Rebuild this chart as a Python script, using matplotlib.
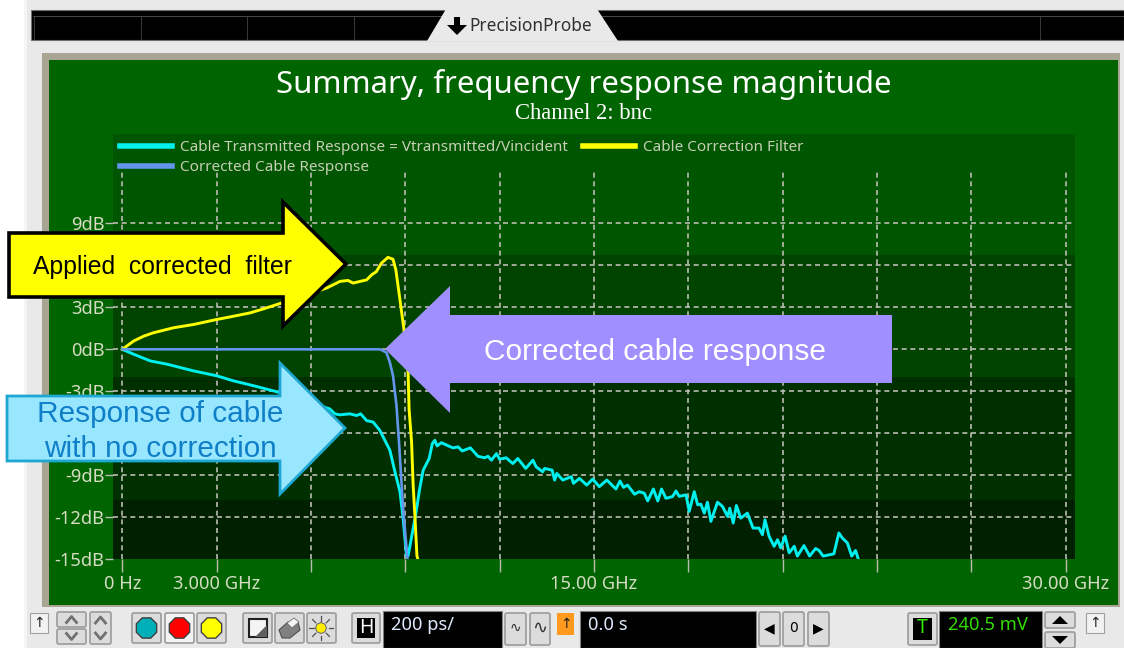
#!/usr/bin/env python3
"""Summary frequency response magnitude, scope screenshot with callout arrows"""

import matplotlib
matplotlib.use('Agg')
import matplotlib.pyplot as plt
from matplotlib.patches import Polygon, Rectangle, RegularPolygon, FancyBboxPatch

W, H = 1124, 648

# Data, GHz / dB
cable_f = [0, 0.36, 0.89, 1.42, 2.26, 3.0, 3.53, 4.17, 4.91, 6.60, 6.76, 6.92, 7.24, 7.45, 7.58,
           7.77, 7.98, 8.19, 8.51, 8.67, 8.83, 8.93, 9.04, 9.09, 9.33, 9.46, 9.57, 9.76, 9.86, 9.94,
           10.01, 10.15, 10.37, 10.52, 10.68, 10.81, 11.07, 11.31, 11.52, 11.63, 11.74, 11.90, 12.0,
           12.21, 12.42, 12.58, 12.83, 13.06, 13.16, 13.37, 13.43, 13.67, 13.75, 13.82, 14.01, 14.28,
           14.35, 14.54, 14.77, 14.96, 15.17, 15.41, 15.70, 15.83, 15.94, 16.07, 16.29, 16.44, 16.60,
           16.71, 16.89, 17.03, 17.15, 17.29, 17.50, 17.61, 17.71, 17.93, 18.03, 18.19, 18.30, 18.40,
           18.51, 18.61, 18.72, 18.93, 19.09, 19.25, 19.32, 19.43, 19.53, 19.67, 19.88, 20.06, 20.25,
           20.36, 20.44, 20.57, 20.73, 20.84, 20.94, 21.08, 21.21, 21.37, 21.47, 21.68, 21.86, 22.05,
           22.16, 22.29, 22.63, 22.79, 22.90, 23.06, 23.20, 23.32, 23.41]
cable_db = [0, -0.35, -0.83, -1.06, -1.54, -1.89, -2.25, -2.60, -3.03, -4.26, -4.61, -4.68, -4.61, -4.73, -4.61,
            -5.09, -5.20, -5.79, -7.21, -8.74, -10.17, -12.06, -14.75, -14.75, -11.82, -9.93, -8.63, -7.80, -6.74, -6.50,
            -6.90, -6.67, -6.90, -7.04, -6.97, -7.26, -7.04, -7.64, -7.75, -7.64, -7.92, -7.45, -7.85,
            -7.75, -8.16, -7.80, -8.51, -7.92, -8.39, -8.75, -8.51, -8.63, -9.34, -8.87, -9.34, -9.10,
            -9.57, -9.22, -9.70, -9.27, -9.81, -9.34, -9.98, -9.41, -9.86, -9.70, -10.35, -10.17, -10.28,
            -10.83, -9.98, -10.83, -9.98, -10.64, -10.52, -10.12, -10.50, -10.40, -11.58, -10.17, -11.11, -11.06,
            -11.70, -10.92, -12.29, -10.92, -11.23, -11.94, -11.35, -12.41, -11.16, -12.06, -11.70, -12.77, -12.77,
            -13.24, -12.18, -13.35, -14.07, -13.60, -14.18, -13.35, -14.54, -14.07, -14.77, -14.02, -14.77, -14.23,
            -14.37, -14.77, -14.61, -13.12, -13.48, -13.83, -14.77, -14.37, -15.0]
filter_f = [0, 0.36, 0.68, 0.99, 1.63, 2.26, 3.0, 3.53, 4.06, 4.49, 5.07, 6.50, 6.71, 6.92, 7.18, 7.34, 7.56,
            7.77, 7.93, 8.08, 8.24, 8.45, 8.61, 8.70, 8.83, 8.95, 9.09, 9.12, 9.20, 9.25, 9.31, 9.37, 9.40]
filter_db = [0, 0.59, 0.94, 1.18, 1.54, 1.77, 2.13, 2.36, 2.60, 2.89, 3.31, 4.38, 4.61, 4.85, 4.92, 4.73, 4.85,
             4.96, 5.32, 5.55, 6.15, 6.57, 6.43, 5.67, 3.55, 1.54, -1.65, -4.26, -6.62, -9.70, -12.06, -14.75, -15.0]
corrected_f = [0, 2.0, 4.0, 6.0, 8.2, 8.40, 8.51, 8.61, 8.72, 8.80, 8.93, 9.07]
corrected_db = [0, 0, 0, 0, 0, -0.23, -0.94, -1.89, -4.02, -6.62, -11.35, -15.0]

x_ticks = [0, 3, 6, 9, 12, 15, 18, 21, 24, 27, 30]
x_tick_labels = ['0 Hz', '3.000 GHz', '', '', '', '15.00 GHz', '', '', '', '', '30.00 GHz']
y_ticks = [-15, -12, -9, -6, -3, 0, 3, 6, 9]
y_tick_labels = ['-15dB', '-12dB', '-9dB', '-6dB', '-3dB', '0dB', '3dB', '6dB', '9dB']
band_edges = [15.38, 6.73, -1.98, -10.76, -15]
band_colors = ['#005500', '#004400', '#003000', '#002000']

GREEN = '#006400'
TICK = '#d6dcc4'
GRID = '#bcbcb4'
plt.rcParams['font.family'] = ['Noto Sans', 'DejaVu Sans']

fig = plt.figure(figsize=(W / 100, H / 100), dpi=100, facecolor='white')

# window chrome, in pixels
bg = fig.add_axes([0, 0, 1, 1], zorder=0)
bg.set_xlim(0, W)
bg.set_ylim(H, 0)
bg.axis('off')


def box(ax, x0, y0, x1, y1, **kw):
    kw.setdefault('linewidth', 0)
    ax.add_patch(Rectangle((x0, y0), x1 - x0, y1 - y0, **kw))


def button(x0, y0, x1, y1, face='#dcdcdc'):
    bg.add_patch(FancyBboxPatch((x0 + 2, y0 + 2), x1 - x0 - 4, y1 - y0 - 4, boxstyle='round,pad=2',
                                facecolor=face, edgecolor='#a0a0a0', linewidth=1.3))


def chevron(cx, cy, up=True):
    d = -3 if up else 3
    bg.plot([cx - 5, cx, cx + 5], [cy - d, cy + d, cy - d], color='#707070', lw=2)


box(bg, 24, 0, 27, H, facecolor='#f5f5f5')
box(bg, 27, 0, W, H, facecolor='#e9e9e9')
box(bg, 31, 10, W, 40, facecolor='black', edgecolor='#707070', linewidth=0.8)
bg.plot([33, W], [16, 16], color='#555555', lw=0.6)
for sx in [34, 141, 247, 354, 1040]:
    bg.plot([sx, sx], [16, 39], color='#444444', lw=0.6)
bg.add_patch(Polygon([(427, 41), (446, 9), (597, 9), (618, 41)], facecolor='#e9e9e9', linewidth=0, zorder=3))
bg.add_patch(Polygon([(457, 35), (447, 25), (454, 25), (454, 17), (460, 17), (460, 25), (467, 25)],
                     facecolor='black', linewidth=0, zorder=4))
bg.text(531, 26, 'PrecisionProbe', color='#303030', fontsize=12.4, ha='center', va='center', zorder=4)

box(bg, 42, 53, 1120, 607, facecolor='#a8a595')
box(bg, 49, 60, 1118, 605, facecolor=GREEN)
bg.text(583.5, 85, 'Summary, frequency response magnitude', color='white', fontsize=22.4,
        ha='center', va='center')
bg.text(583.5, 113.5, 'Channel 2: bnc', color='white', fontsize=16.3, ha='center', va='center',
        family='Liberation Serif')

# toolbar
box(bg, 30, 613, 48, 633, facecolor='#f2f2f2', edgecolor='#a0a0a0', linewidth=0.8)
bg.text(39, 623, '↑', ha='center', va='center', fontsize=10, color='#202020', family='DejaVu Sans')
box(bg, 1086, 613, 1104, 633, facecolor='#f2f2f2', edgecolor='#a0a0a0', linewidth=0.8)
bg.text(1095, 623, '↑', ha='center', va='center', fontsize=10, color='#202020', family='DejaVu Sans')
button(57, 612, 86, 627)
chevron(71.5, 619.5, up=True)
button(57, 629, 86, 644)
chevron(71.5, 636.5, up=False)
button(90, 612, 111, 644)
chevron(100.5, 620, up=True)
chevron(100.5, 636, up=False)
for x0, col in [(132, '#00b0b8'), (165, '#ff0000'), (197, '#ffff00')]:
    button(x0, 613, x0 + 29, 643, face='#f4f4f4' if col == '#ff0000' else '#dcdcdc')
    bg.add_patch(RegularPolygon((x0 + 14.5, 628), 8, radius=11, orientation=0.3927,
                                facecolor=col, edgecolor='#404040', linewidth=1))
for x0 in [243, 275, 307]:
    button(x0, 613, x0 + 29, 643)
# scale, printer and brightness icons
box(bg, 249, 619, 267, 637, facecolor='#f4f4f4', edgecolor='#202020', linewidth=1.5)
bg.add_patch(Polygon([(267, 637), (267, 625), (255, 637)], facecolor='#606060', linewidth=0))
bg.add_patch(Polygon([(279, 630), (288, 622), (298, 622), (300, 630), (290, 638), (282, 638)],
                     facecolor='#808080', edgecolor='#505050', linewidth=0.8))
bg.add_patch(Polygon([(287, 623), (294, 618), (299, 622), (292, 628)], facecolor='#f4f4f4',
                     edgecolor='#707070', linewidth=0.6))
bg.add_patch(RegularPolygon((321, 628), 8, radius=5.5, facecolor='#ffee00', edgecolor='#707070', linewidth=0.8))
for dx, dy in [(0, -10), (7, -7), (10, 0), (7, 7), (0, 10), (-7, 7), (-10, 0), (-7, -7)]:
    bg.plot([321 + dx * 0.75, 321 + dx * 1.2], [628 + dy * 0.75, 628 + dy * 1.2], color='#505050', lw=0.9)
button(352, 613, 380, 643)
box(bg, 357, 618, 375, 638, facecolor='black')
bg.text(366, 628, 'H', color='white', fontsize=14, ha='center', va='center')
box(bg, 383, 611, 502, 648, facecolor='black', edgecolor='#808080', linewidth=0.8)
bg.text(391, 625, '200 ps/', color='#dfeaff', fontsize=13.2, ha='left', va='center')
button(505, 613, 526, 645)
button(530, 613, 550, 645)
bg.text(515.5, 628, '∿', ha='center', va='center', fontsize=10, family='DejaVu Sans', color='#303030')
bg.text(540, 628, '∿', ha='center', va='center', fontsize=13, family='DejaVu Sans', color='#303030')
box(bg, 557, 613, 574, 635, facecolor='#ff9a1e')
bg.text(565.5, 624, '↑', ha='center', va='center', fontsize=10, color='#202020', family='DejaVu Sans')
box(bg, 580, 611, 756, 648, facecolor='black', edgecolor='#808080', linewidth=0.8)
bg.text(588, 625, '0.0 s', color='#dfeaff', fontsize=13.2, ha='left', va='center')
for x0, mark in [(759, '◀'), (783, '0'), (808, '▶')]:
    button(x0, 612, x0 + 21, 646)
    bg.text(x0 + 10.5, 628, mark, ha='center', va='center', fontsize=10, color='black', family='DejaVu Sans')
button(908, 613, 937, 645)
box(bg, 913, 618, 932, 640, facecolor='black')
bg.text(922.5, 628, 'T', color='#33ee00', fontsize=14, ha='center', va='center')
box(bg, 939, 611, 1042, 648, facecolor='black', edgecolor='#808080', linewidth=0.8)
bg.text(948, 625, '240.5 mV', color='#33dd00', fontsize=13.2, ha='left', va='center')
for y0, y1, pts in [(612, 628, [(1052, 624), (1068, 624), (1060, 616)]),
                    (632, 648, [(1052, 636), (1068, 636), (1060, 644)])]:
    button(1045, y0, 1075, y1)
    bg.add_patch(Polygon(pts, facecolor='black', linewidth=0, zorder=3))

# plot
left, right, top, bottom = 113, 1075, 134, 559.3
ax = fig.add_axes([left / W, 1 - bottom / H, (right - left) / W, (bottom - top) / H], zorder=1)
ax.set_xlim(-0.296, 30.3)
ax.set_ylim(-15, 15.38)
ax.set_facecolor('none')
for side in ax.spines.values():
    side.set_visible(False)
for b_top, b_bot, col in zip(band_edges[:-1], band_edges[1:], band_colors):
    ax.axhspan(b_bot, b_top, facecolor=col, linewidth=0, zorder=0)

ax.hlines(y_ticks[1:], -0.296, 30.3, colors=GRID, linestyles=(0, (3, 2.2)), linewidth=1.2, zorder=1)
ax.vlines(x_ticks, -15, 12.65, colors=GRID, linestyles=(0, (3, 2.2)), linewidth=1.2, zorder=1)

ln_cable, = ax.plot(cable_f, cable_db, color='#00f0f0', lw=2.1, zorder=3,
                    label='Cable Transmitted Response = Vtransmitted/Vincident')
ln_filter, = ax.plot(filter_f, filter_db, color='#ffff00', lw=2.1, zorder=3, label='Cable Correction Filter')
ln_corr, = ax.plot(corrected_f, corrected_db, color='#6495ed', lw=1.9, zorder=4, label='Corrected Cable Response')

ax.set_xticks(x_ticks)
ax.set_xticklabels(x_tick_labels)
ax.set_yticks(y_ticks)
ax.set_yticklabels(y_tick_labels)
ax.tick_params(axis='x', length=9.5, width=1, color=GRID, labelcolor=TICK, labelsize=13.2, pad=2)
ax.tick_params(axis='y', length=6, width=1, color=GRID, labelcolor=TICK, labelsize=13.2, pad=0)

leg = ax.legend([ln_cable, ln_corr, ln_filter],
                [ln_cable.get_label(), ln_corr.get_label(), ln_filter.get_label()],
                ncols=2, loc='upper left', bbox_to_anchor=(0.0035, 0.994), borderaxespad=0, borderpad=0.25,
                frameon=False, fontsize=11, handlelength=3.4, handletextpad=0.5, columnspacing=1.0,
                labelspacing=0.33)
for line in leg.get_lines():
    line.set_linewidth(4)
for txt in leg.get_texts():
    txt.set_color('#c6cfb6')

# callout arrows, in pixels
over = fig.add_axes([0, 0, 1, 1], zorder=2)
over.set_xlim(0, W)
over.set_ylim(H, 0)
over.axis('off')
over.add_patch(Polygon([(9, 233), (283, 233), (283, 202), (346, 264), (283, 326), (283, 297), (9, 297)],
                       facecolor='#ffff00', edgecolor='black', linewidth=2.6, joinstyle='miter'))
over.add_patch(Polygon([(7, 396), (280, 396), (280, 363), (345, 428), (280, 494), (280, 461), (7, 461)],
                       facecolor='#99e6ff', edgecolor='#1ea7d0', linewidth=2, joinstyle='miter'))
over.add_patch(Polygon([(385, 349), (450, 286), (450, 315), (892, 315), (892, 383), (450, 383), (450, 413)],
                       facecolor='#9f8fff', linewidth=0))
arrow_font = ['Liberation Sans']
over.text(162.5, 267, 'Applied  corrected  filter', color='black', fontsize=17.8, ha='center', va='center',
          family=arrow_font)
over.text(160.5, 414, 'Response of cable', color='#0f7fc8', fontsize=21.4, ha='center', va='center', family=arrow_font)
over.text(160, 449, 'with no correction', color='#0f7fc8', fontsize=21.4, ha='center', va='center', family=arrow_font)
over.text(655.5, 351.5, 'Corrected cable response', color='white', fontsize=21.5, ha='center', va='center',
          family=arrow_font)

fig.savefig('out.png', dpi=100)
plt.close(fig)
